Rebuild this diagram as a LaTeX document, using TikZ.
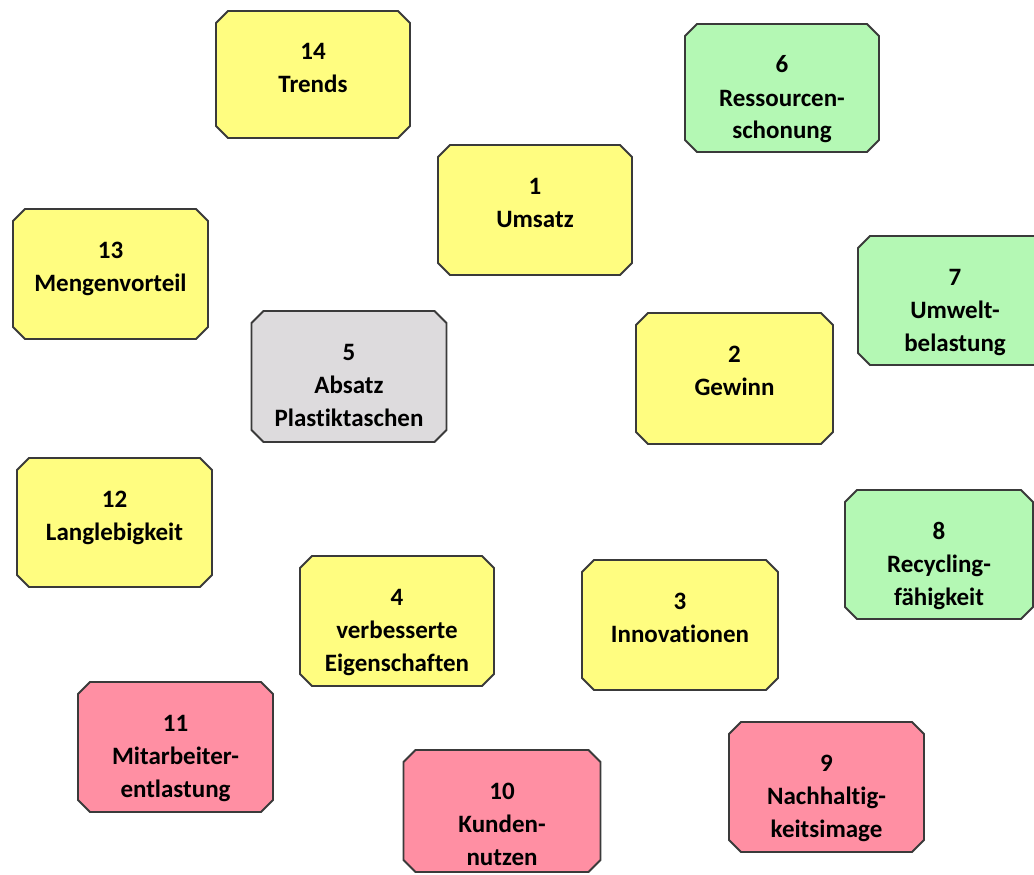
\documentclass[tikz,border=0pt]{standalone}
\usepackage{fontspec}
\setmainfont{Carlito}[Ligatures=NoCommon]
\usetikzlibrary{shapes.misc}

\definecolor{cardyellow}{RGB}{255,253,128}
\definecolor{cardgreen}{RGB}{180,248,180}
\definecolor{cardpink}{RGB}{255,143,163}
\definecolor{cardgray}{RGB}{221,219,221}
\definecolor{cardedge}{RGB}{58,58,58}

\tikzset{
  card/.style={chamfered rectangle, chamfered rectangle xsep=4.5pt,
    chamfered rectangle ysep=4.5pt, draw=cardedge, line width=1.4pt,
    inner sep=0pt, outer sep=0pt, anchor=north, align=center,
    text height=32.25pt,
    font=\fontsize{18.75pt}{24.75pt}\selectfont\bfseries},
  yellowcard/.style={card, fill=cardyellow},
  greencard/.style={card, fill=cardgreen},
  pinkcard/.style={card, fill=cardpink},
  graycard/.style={card, fill=cardgray},
}

\begin{document}
\begin{tikzpicture}[x=0.75pt,y=-0.75pt]
\useasboundingbox (0,0) rectangle (1034,874);
\clip (0,0) rectangle (1034,874);

\node[yellowcard, text width=136.5pt,  text depth=54pt]    (n14) at (313,11)    {14\\Trends};
\node[greencard,  text width=136.5pt,  text depth=54.75pt] (n6)  at (782,24)    {6\\Ressourcen-\\schonung};
\node[yellowcard, text width=136.5pt,  text depth=56.25pt] (n1)  at (535,145)   {1\\Umsatz};
\node[yellowcard, text width=137.25pt, text depth=56.25pt] (n13) at (110.5,209) {13\\Mengenvorteil};
\node[greencard,  text width=136.5pt,  text depth=55.5pt]  (n7)  at (955,236)   {7\\Umwelt-\\belastung};
\node[graycard,   text width=137.25pt, text depth=57pt]    (n5)  at (349,311)   {5\\Absatz\\Plastiktaschen};
\node[yellowcard, text width=138.75pt, text depth=57pt]    (n2)  at (734.5,313) {2\\Gewinn};
\node[yellowcard, text width=137.25pt, text depth=55.5pt]  (n12) at (114.5,458) {12\\Langlebigkeit};
\node[greencard,  text width=132pt,    text depth=55.5pt]  (n8)  at (939,490)   {8\\Recycling-\\fähigkeit};
\node[yellowcard, text width=136.5pt,  text depth=56.25pt] (n4)  at (397,556)   {4\\verbesserte\\Eigenschaften};
\node[yellowcard, text width=138pt,    text depth=56.25pt] (n3)  at (680,560)   {3\\Innovationen};
\node[pinkcard,   text width=137.25pt, text depth=56.25pt] (n11) at (175.5,682) {11\\Mitarbeiter-\\entlastung};
\node[pinkcard,   text width=137.25pt, text depth=56.25pt] (n9)  at (826.5,722) {9\\Nachhaltig-\\keitsimage};
\node[pinkcard,   text width=138.75pt, text depth=50.25pt] (n10) at (502,750)   {10\\Kunden-\\nutzen};
\end{tikzpicture}
\end{document}
